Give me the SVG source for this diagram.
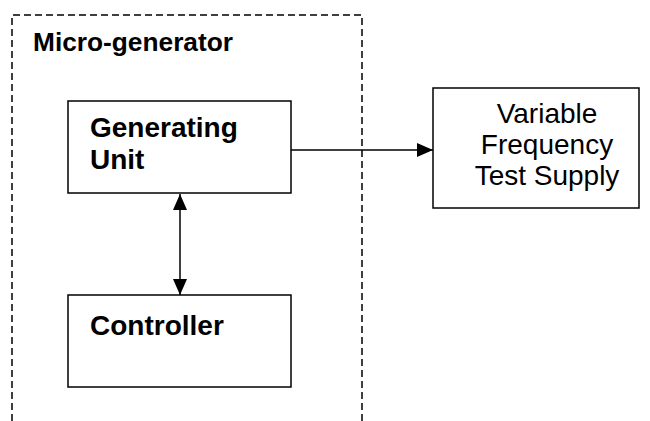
<svg xmlns="http://www.w3.org/2000/svg" width="650" height="421" viewBox="0 0 650 421">
<defs>
<style>
.box{fill:#fff;stroke:#000;stroke-width:1.5}
.b{font-family:"Liberation Sans",Arial,sans-serif;font-weight:bold;fill:#000}
.r{font-family:"Liberation Sans",Arial,sans-serif;fill:#000}
.ln{stroke:#000;stroke-width:1.5;fill:none}
</style>
<marker id="ah2" viewBox="0 0 16 14" refX="16" refY="7" markerWidth="16" markerHeight="14" markerUnits="userSpaceOnUse" orient="auto-start-reverse">
<path d="M0,0 L16,7 L0,14 z" fill="#000"/>
</marker>
</defs>
<g id="micro-generator">
<path d="M12,421 V15 H362 V421" fill="none" stroke="#000" stroke-width="1.5" stroke-dasharray="7,4"/>
<text class="b" x="33" y="51" font-size="25" textLength="200" lengthAdjust="spacingAndGlyphs">Micro-generator</text>
</g>
<g id="connectors">
<line class="ln" x1="291" y1="150" x2="433" y2="150" marker-end="url(#ah2)"/>
<line class="ln" x1="180" y1="194" x2="180" y2="295" marker-start="url(#ah2)" marker-end="url(#ah2)"/>
</g>
<g id="generating-unit">
<rect class="box" x="68" y="101" width="223" height="92"/>
<text class="b" x="90" y="137" font-size="28">Generating</text>
<text class="b" x="90" y="169" font-size="28">Unit</text>
</g>
<g id="controller">
<rect class="box" x="68" y="295" width="223" height="92"/>
<text class="b" x="90" y="335" font-size="28">Controller</text>
</g>
<g id="test-supply">
<rect class="box" x="433" y="88" width="206" height="120"/>
<text class="r" x="547" y="123" font-size="28" text-anchor="middle">Variable</text>
<text class="r" x="547" y="154" font-size="28" text-anchor="middle">Frequency</text>
<text class="r" x="547" y="185" font-size="28" text-anchor="middle">Test Supply</text>
</g>
</svg>
